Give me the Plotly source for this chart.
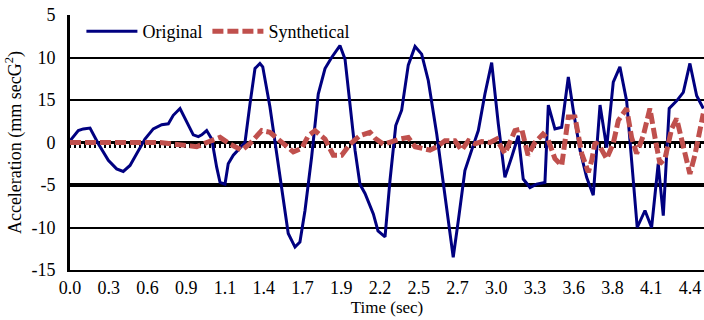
import plotly.graph_objects as go

# ---- data ----
t_orig = [0.000, 0.059, 0.094, 0.142, 0.201, 0.272, 0.331, 0.378, 0.426, 0.473,
          0.532, 0.591, 0.651, 0.698, 0.733, 0.781, 0.828, 0.875, 0.911, 0.935,
          0.970, 1.006, 1.041, 1.065, 1.100, 1.123, 1.159, 1.207, 1.242, 1.278,
          1.313, 1.348, 1.368, 1.419, 1.467, 1.514, 1.549, 1.597, 1.632, 1.668,
          1.715, 1.762, 1.810, 1.857, 1.916, 1.952, 1.987, 2.023, 2.058, 2.094,
          2.153, 2.186, 2.236, 2.271, 2.312, 2.354, 2.401, 2.449, 2.496, 2.543,
          2.603, 2.661, 2.720, 2.756, 2.803, 2.851, 2.898, 2.945, 2.993, 3.040,
          3.087, 3.135, 3.182, 3.217, 3.265, 3.312, 3.371, 3.395, 3.442, 3.490,
          3.537, 3.572, 3.620, 3.667, 3.714, 3.762, 3.809, 3.856, 3.903, 3.951,
          3.986, 4.026, 4.081, 4.128, 4.175, 4.211, 4.253, 4.306, 4.353, 4.400,
          4.448, 4.495]
original = [0.2, 1.4, 1.6, 1.7, -0.15, -2.1, -3.1, -3.4, -2.7, -1.3,
            0.4, 1.6, 2.1, 2.2, 3.2, 4.0, 2.4, 0.9, 0.7, 0.9,
            1.4, 0.4, -2.9, -4.7, -4.9, -2.5, -1.5, -0.7, 0.0, 4.6,
            8.7, 9.3, 8.9, 4.2, -1.3, -6.8, -10.7, -12.3, -11.7, -8.0,
            -1.7, 5.7, 8.7, 10.0, 11.4, 9.8, 4.7, -0.9, -4.9, -6.0,
            -8.4, -10.4, -11.1, -4.5, 2.0, 3.8, 9.1, 11.3, 10.4, 7.3,
            1.0, -6.4, -13.5, -9.2, -3.3, -0.9, 1.4, 5.7, 9.4, 2.2,
            -4.1, -1.7, 0.8, -4.3, -5.3, -4.9, -4.7, 4.4, 1.6, 1.8,
            7.7, 3.8, -0.9, -4.1, -6.2, 4.4, -0.6, 7.1, 8.9, 4.9,
            -2.1, -10.0, -8.0, -10.0, -2.5, -8.6, 4.0, 4.9, 5.9, 9.3,
            5.5, 4.0]

t_syn = [0.000, 0.213, 0.426, 0.639, 0.828, 0.899, 0.970, 1.065, 1.136, 1.219,
         1.278, 1.361, 1.419, 1.490, 1.585, 1.644, 1.691, 1.739, 1.810, 1.869,
         1.928, 1.987, 2.058, 2.129, 2.165, 2.224, 2.293, 2.342, 2.401, 2.449,
         2.555, 2.603, 2.661, 2.732, 2.780, 2.827, 2.874, 2.922, 2.981, 3.028,
         3.087, 3.158, 3.206, 3.251, 3.300, 3.357, 3.392, 3.442, 3.490, 3.537,
         3.584, 3.632, 3.679, 3.703, 3.727, 3.762, 3.809, 3.856, 3.892, 3.951,
         3.986, 4.022, 4.069, 4.116, 4.152, 4.187, 4.223, 4.270, 4.306, 4.353,
         4.400, 4.435, 4.495]
synthetical = [0.0, 0.0, 0.0, 0.0, -0.35, -0.5, 0.0, 0.6, -0.2, -0.9,
               -0.1, 1.4, 1.2, 0.2, -1.1, -0.7, 0.8, 1.4, 0.4, -1.5,
               -1.5, -0.2, 0.8, 1.2, 0.5, -0.2, 0.2, 0.4, 0.6, -0.5,
               -0.9, -0.5, 0.2, 0.2, -0.9, 0.2, -0.15, 0.1, 0.0, 0.4,
               -1.3, 1.4, 1.6, -1.5, 0.0, 1.0, 0.4, -1.9, -2.7, 3.0,
               3.0, -1.3, -3.5, -2.1, 0.0, -0.5, -1.9, -0.1, 2.6, 4.0,
               0.6, -1.3, 0.8, 4.0, 0.6, -2.5, -1.9, 1.6, 2.8, -0.5,
               -3.7, -1.5, 3.4]

x_tick_labels = ["0.0", "0.3", "0.6", "0.9", "1.1", "1.4", "1.7", "1.9", "2.2",
                 "2.5", "2.7", "3.0", "3.3", "3.6", "3.8", "4.1", "4.4"]
x_tick_step = 0.275
y_tick_vals = [15, 10, 5, 0, -5, -10, -15]
y_tick_text = ["5", "10", "15", "0", "-5", "-10", "-15"]
y_heavy_lines = [15, -5]

FONT = "Liberation Serif"
x_range = [0, 4.5]
y_range = [-15, 15]

fig = go.Figure()
fig.add_trace(go.Scatter(x=t_orig, y=original, mode="lines", name="Original",
                         line=dict(color="#000080", width=3)))
fig.add_trace(go.Scatter(x=t_syn, y=synthetical, mode="lines", name="Synthetical",
                         line=dict(color="#C0504D", width=5, dash="11px,4px")))
# helper trace so the overlay axes (zero-axis ticks, heavy grid) are drawn
fig.add_trace(go.Scatter(x=[0], y=[0], mode="none", showlegend=False,
                         hoverinfo="skip", xaxis="x2", yaxis="y2"))

fig.update_layout(
    template="none",
    width=704, height=320,
    margin=dict(l=70, r=0, t=15, b=50),
    paper_bgcolor="white", plot_bgcolor="white",
    font=dict(family=FONT, size=18, color="black"),
    showlegend=True,
    legend=dict(orientation="h", x=0.018, y=1.008, xanchor="left", yanchor="top",
                bgcolor="rgba(255,255,255,0)", font=dict(family=FONT, size=18),
                itemwidth=51, tracegroupgap=0),
    xaxis=dict(range=x_range, showgrid=False, zeroline=False,
               tickvals=[i * x_tick_step for i in range(len(x_tick_labels))],
               ticktext=x_tick_labels, ticks="", ticklabelstandoff=0,
               tickfont=dict(family=FONT, size=18),
               showline=True, linecolor="black", linewidth=2,
               title=dict(text="Time (sec)", standoff=2,
                          font=dict(family=FONT, size=17))),
    yaxis=dict(range=y_range, tickvals=y_tick_vals, ticktext=y_tick_text,
               tickfont=dict(family=FONT, size=18),
               showgrid=True, gridcolor="black", gridwidth=2,
               zeroline=True, zerolinecolor="black", zerolinewidth=3,
               showline=True, linecolor="black", linewidth=3, ticks="",
               ticklabelstandoff=8,
               title=dict(text="Acceleration (mm secG<sup>2</sup>)", standoff=6,
                          font=dict(family=FONT, size=18))),
    xaxis2=dict(range=x_range, overlaying="x", anchor="free", position=0.5,
                showgrid=False, zeroline=False, showticklabels=False,
                showline=False,
                ticks="outside", ticklen=4, tickwidth=2, tickcolor="black",
                dtick=0.0355, tick0=0, layer="below traces"),
    yaxis2=dict(range=y_range, overlaying="y", tickvals=y_heavy_lines,
                showgrid=True, gridcolor="black", gridwidth=4, zeroline=False,
                showticklabels=False, showline=False, ticks=""),
)

fig.write_html("out.html")
